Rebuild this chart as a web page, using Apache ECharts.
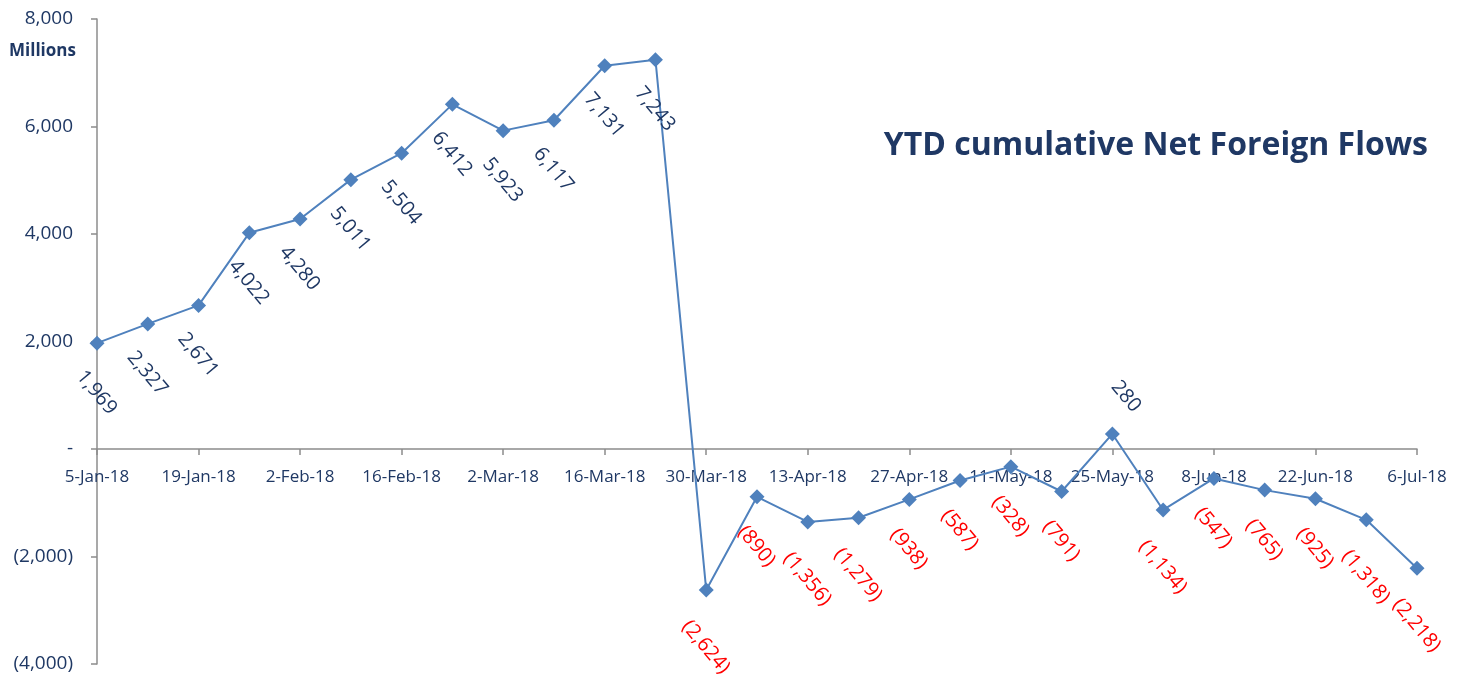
<!DOCTYPE html>
<html>
<head>
<meta charset="utf-8">
<script src="https://cdn.jsdelivr.net/npm/echarts@6/dist/echarts.min.js"></script>
<style>
  html, body { margin: 0; padding: 0; background: #fff; }
  #main { width: 1467px; height: 677px; }
</style>
</head>
<body>
<div id="main"></div>
<script>
// weekly dates
const weeks = [
  "5-Jan-18", "12-Jan-18", "19-Jan-18", "26-Jan-18", "2-Feb-18", "9-Feb-18",
  "16-Feb-18", "23-Feb-18", "2-Mar-18", "9-Mar-18", "16-Mar-18", "23-Mar-18",
  "30-Mar-18", "6-Apr-18", "13-Apr-18", "20-Apr-18", "27-Apr-18", "4-May-18",
  "11-May-18", "18-May-18", "25-May-18", "1-Jun-18", "8-Jun-18", "15-Jun-18",
  "22-Jun-18", "29-Jun-18", "6-Jul-18"
];
// YTD cumulative net foreign flows, millions
const netFlows = [
  1969, 2327, 2671, 4022, 4280, 5011,
  5504, 6412, 5923, 6117, 7131, 7243,
  -2624, -890, -1356, -1279, -938, -587,
  -328, -791, 280, -1134, -547, -765,
  -925, -1318, -2218
];
// labels shown above the point instead of below
const labelsAbove = ["25-May-18"];

const yMin = -4000;
const yMax = 8000;

const navy = "#1f3864";
const lineBlue = "#4f81bd";
const font = "'Open Sans', sans-serif";

const gridTop = 19;
const gridBottom = 13;
const H = 677;

function fmt(v) {
  if (v === 0) return "-";
  const s = Math.abs(v).toLocaleString("en-US");
  return v < 0 ? "(" + s + ")" : s;
}

const seriesData = netFlows.map((v, i) => {
  const txt = fmt(v);
  const above = labelsAbove.indexOf(weeks[i]) > -1;
  const dy = 31 + 3.8 * txt.length;
  return {
    value: v,
    label: {
      position: above ? [21, -30] : [7, 7 + dy],
      color: v < 0 ? "#ff0000" : navy,
    },
  };
});

// x axis sits on the zero line, labels with it
const plotH = H - gridTop - gridBottom;
const zeroFromBottom = plotH * (0 - yMin) / (yMax - yMin);

const chart = echarts.init(document.getElementById("main"));
const option = {
  animation: false,
  title: {
    text: "YTD cumulative Net Foreign Flows",
    right: 34,
    top: 125,
    textStyle: { fontFamily: font, fontSize: 32, fontWeight: "bold", color: navy },
  },
  graphic: [
    {
      type: "text",
      left: 9,
      top: 43,
      style: { text: "Millions", fontFamily: font, fontSize: 17, fontWeight: "bold", fill: navy },
    },
  ],
  grid: { left: 97, right: 50, top: gridTop, bottom: gridBottom, containLabel: false, outerBoundsMode: "none" },
  xAxis: {
    type: "category",
    data: weeks,
    boundaryGap: false,
    offset: -zeroFromBottom,
    axisLine: { onZero: false, lineStyle: { color: "#8c8c8c", width: 1.5 } },
    axisTick: { show: true, interval: 1, length: 6, lineStyle: { color: "#8c8c8c", width: 1.5 } },
    axisLabel: {
      interval: 1,
      margin: 20,
      fontFamily: font,
      fontSize: 17,
      color: navy,
    },
    splitLine: { show: false },
  },
  yAxis: {
    type: "value",
    min: yMin,
    max: yMax,
    interval: 2000,
    axisLine: { show: true, lineStyle: { color: "#8c8c8c", width: 1.5 } },
    axisTick: { show: true, length: 6, lineStyle: { color: "#8c8c8c", width: 1.5 } },
    axisLabel: {
      margin: 24,
      fontFamily: font,
      fontSize: 19,
      color: navy,
      formatter: fmt,
    },
    splitLine: { show: false },
  },
  series: [
    {
      type: "line",
      data: seriesData,
      symbol: "diamond",
      symbolSize: 15,
      lineStyle: { color: lineBlue, width: 2 },
      itemStyle: { color: lineBlue },
      label: {
        show: true,
        rotate: -50,
        align: "center",
        verticalAlign: "middle",
        fontFamily: font,
        fontSize: 20,
        formatter: (p) => fmt(p.value),
      },
      labelLayout: { hideOverlap: false },
    },
  ],
};
chart.setOption(option);
</script>
</body>
</html>
